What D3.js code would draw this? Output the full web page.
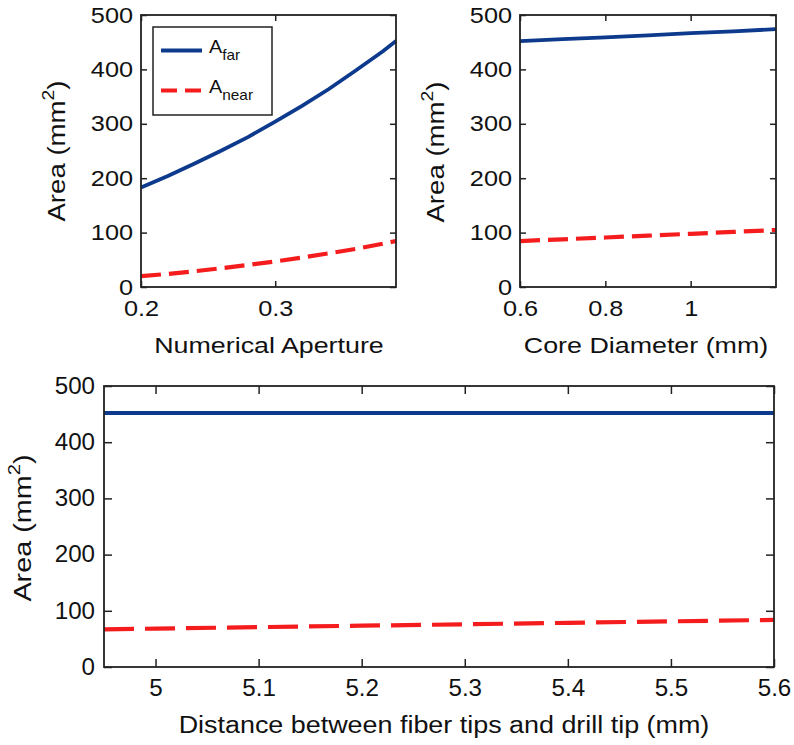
<!DOCTYPE html>
<html>
<head>
<meta charset="utf-8">
<script src="https://cdn.jsdelivr.net/npm/d3@7"></script>
<style>
  body { margin: 0; background: #fff; }
  svg { display: block; font-family: "Liberation Sans", Arial, sans-serif; }
</style>
</head>
<body>
<svg id="drawing_region"></svg>
<script>
// values
const naValues = [0.20, 0.22, 0.24, 0.26, 0.28, 0.30, 0.32, 0.34, 0.36, 0.38, 0.39];
const naFar    = [183, 204, 227, 251, 276, 304, 333, 364, 398, 433, 452];
const naNear   = [20, 24, 29, 34.5, 40.5, 47, 54, 62, 70, 79.5, 84.5];

const coreValues = [0.6, 0.7, 0.8, 0.9, 1.0, 1.1, 1.2];
const coreFar    = [452, 455.5, 459, 462.5, 466.5, 470, 474];
const coreNear   = [84.5, 87.7, 91, 94.4, 97.8, 101.3, 104.8];

const distValues = [4.95, 5.0, 5.1, 5.2, 5.3, 5.4, 5.5, 5.6];
const distFar    = [452, 452, 452, 452, 452, 452, 452, 452];
const distNear   = [67, 68.3, 70.9, 73.5, 76.0, 78.6, 81.2, 83.8];

const yTicks = [0, 100, 200, 300, 400, 500];
const naTicks = [0.2, 0.3];
const coreTicks = [0.6, 0.8, 1];
const distTicks = [5, 5.1, 5.2, 5.3, 5.4, 5.5, 5.6];

const farColor = '#0d3a8c';
const nearColor = '#f41c1c';

const svg = d3.select('#drawing_region')
    .attr('width', 794)
    .attr('height', 745);

function drawPanel(cfg) {
    const x = d3.scaleLinear().domain(cfg.xDomain).range([cfg.left, cfg.right]);
    const y = d3.scaleLinear().domain([0, 500]).range([cfg.bottom, cfg.top]);
    const g = svg.append('g');
    const fmt = d3.format('~g');

    // y axis left + mirrored right
    const yl = g.append('g')
        .attr('transform', `translate(${cfg.left},0)`)
        .call(d3.axisLeft(y).tickValues(yTicks).tickSizeInner(-cfg.tick).tickSizeOuter(0).tickPadding(cfg.ypad));
    const yr = g.append('g')
        .attr('transform', `translate(${cfg.right},0)`)
        .call(d3.axisRight(y).tickValues(yTicks).tickSizeInner(-cfg.tick).tickSizeOuter(0).tickFormat(''));
    const xb = g.append('g')
        .attr('transform', `translate(0,${cfg.bottom})`)
        .call(d3.axisBottom(x).tickValues(cfg.xTicks).tickFormat(fmt).tickSizeInner(-cfg.tick).tickSizeOuter(0).tickPadding(cfg.xpad));
    const xt = g.append('g')
        .attr('transform', `translate(0,${cfg.top})`)
        .call(d3.axisTop(x).tickValues(cfg.xTicks).tickSizeInner(-cfg.tick).tickSizeOuter(0).tickFormat(''));

    [yl, yr, xb, xt].forEach(a => {
        a.select('.domain').remove();
        a.selectAll('.tick line').attr('stroke', '#222').attr('stroke-width', 1.5);
        a.selectAll('.tick text')
            .attr('fill', '#111')
            .style('font-size', cfg.tickFont + 'px');
    });
    yl.selectAll('.tick text')
        .attr('x', -cfg.ypad / cfg.sx)
        .attr('transform', `scale(${cfg.sx},1)`);
    xb.selectAll('.tick text')
        .attr('transform', `scale(${cfg.sx},1)`);

    // data lines
    const line = d3.line().x(d => x(d[0])).y(d => y(d[1]));
    g.append('path')
        .datum(cfg.xs.map((v, i) => [v, cfg.far[i]]))
        .attr('d', line)
        .attr('fill', 'none')
        .attr('stroke', farColor)
        .attr('stroke-width', 3.8);
    g.append('path')
        .datum(cfg.xs.map((v, i) => [v, cfg.near[i]]))
        .attr('d', line)
        .attr('fill', 'none')
        .attr('stroke', nearColor)
        .attr('stroke-width', 4.2)
        .attr('stroke-dasharray', cfg.dash);

    // box
    g.append('rect')
        .attr('x', cfg.left).attr('y', cfg.top)
        .attr('width', cfg.right - cfg.left).attr('height', cfg.bottom - cfg.top)
        .attr('fill', 'none').attr('stroke', '#222').attr('stroke-width', 1.8);

    // x label
    g.append('text')
        .attr('transform', `translate(${cfg.xlabX},${cfg.xlabY}) scale(${cfg.labSx},1)`)
        .attr('text-anchor', 'middle')
        .attr('dominant-baseline', 'middle')
        .style('font-size', cfg.labFont + 'px')
        .attr('fill', '#111')
        .text(cfg.xLabel);

    // y label
    const yt = g.append('text')
        .attr('transform', `translate(${cfg.ylabX},${cfg.ylabY}) rotate(-90) scale(${cfg.yAlong},1)`)
        .attr('text-anchor', 'middle')
        .attr('dominant-baseline', 'middle')
        .style('font-size', cfg.yFont + 'px')
        .attr('fill', '#111');
    yt.append('tspan').text('Area (mm');
    yt.append('tspan').attr('dy', -cfg.yFont * 0.4).style('font-size', (cfg.yFont * 0.7) + 'px').text('2');
    yt.append('tspan').attr('dy', cfg.yFont * 0.4).text(')');

    return g;
}

const pA = drawPanel({
    left: 141, right: 396, top: 15, bottom: 287,
    xDomain: [0.2, 0.39], xTicks: naTicks,
    xs: naValues, far: naFar, near: naNear, dash: '20,8',
    xLabel: 'Numerical Aperture',
    tick: 6, ypad: 8, xpad: 13, sx: 1.15, tickFont: 22,
    labFont: 22, labSx: 1.22, yFont: 24, yAlong: 1.15,
    xlabX: 269, xlabY: 347, ylabX: 59, ylabY: 151
});

drawPanel({
    left: 520, right: 776, top: 15, bottom: 287,
    xDomain: [0.6, 1.2], xTicks: coreTicks,
    xs: coreValues, far: coreFar, near: coreNear, dash: '20,8',
    xLabel: 'Core Diameter (mm)',
    tick: 6, ypad: 8, xpad: 13, sx: 1.15, tickFont: 22,
    labFont: 22, labSx: 1.22, yFont: 24, yAlong: 1.15,
    xlabX: 646, xlabY: 347, ylabX: 438, ylabY: 152
});

drawPanel({
    left: 104, right: 774, top: 386, bottom: 667,
    xDomain: [4.95, 5.6], xTicks: distTicks,
    xs: distValues, far: distFar, near: distNear, dash: '30,11',
    xLabel: 'Distance between fiber tips and drill tip (mm)',
    tick: 8, ypad: 9, xpad: 13, sx: 1.05, tickFont: 23,
    labFont: 23, labSx: 1.17, yFont: 24, yAlong: 1.2,
    xlabX: 444, xlabY: 727, ylabX: 25, ylabY: 528
});

// legend in the first panel
const legend = pA.append('g');
legend.append('rect')
    .attr('x', 153).attr('y', 27).attr('width', 119).attr('height', 88)
    .attr('fill', '#fff').attr('stroke', '#222').attr('stroke-width', 1.5);
const legendItems = [
    { sub: 'far', color: farColor, dash: null, w: 3.8, y: 50.5 },
    { sub: 'near', color: nearColor, dash: '16,8', w: 4.2, y: 90.5 }
];
legendItems.forEach(d => {
    legend.append('line')
        .attr('x1', 161).attr('x2', 202).attr('y1', d.y).attr('y2', d.y)
        .attr('stroke', d.color).attr('stroke-width', d.w)
        .attr('stroke-dasharray', d.dash);
    const t = legend.append('text')
        .attr('transform', `translate(209,${d.y + 2}) scale(1.1,1)`)
        .style('font-size', '18px')
        .attr('fill', '#111');
    t.append('tspan').text('A');
    t.append('tspan').attr('dy', 7).style('font-size', '14px').text(d.sub);
});
</script>
</body>
</html>
